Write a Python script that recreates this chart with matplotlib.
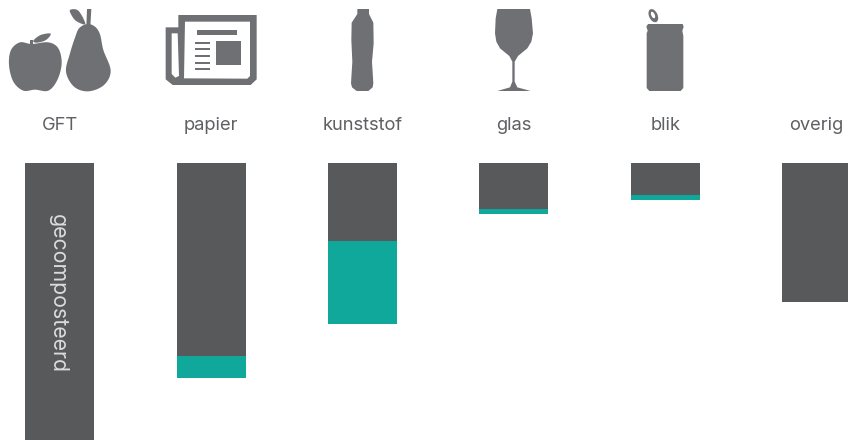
import numpy as np
import matplotlib
matplotlib.use("Agg")
import matplotlib.pyplot as plt
from matplotlib.patches import Polygon, Rectangle, Ellipse

categories = ["GFT", "papier", "kunststof", "glas", "blik", "overig"]
composted_or_burned = [300, 193, 78, 46, 32, 139]
recycled = [0, 22, 83, 5, 5, 0]
bar_note = "gecomposteerd"

DARK = "#58595b"
TEAL = "#10a89b"
ICON = "#6f7074"
TEXT = "#5f6063"

W, H = 848, 440
fig = plt.figure(figsize=(W / 100, H / 100), dpi=100, facecolor="white")

# Bars hang down from a shared top line
ax = fig.add_axes([0, 0, 1, (H - 163) / H])
positions = np.arange(len(categories))
ax.bar(positions, composted_or_burned, width=69 / 151.4, color=DARK, linewidth=0)
ax.bar(positions, recycled, width=69 / 151.4, bottom=composted_or_burned,
       color=TEAL, linewidth=0)
ax.set_xlim((0 - 59.7) / 151.4, (W - 59.7) / 151.4)
ax.set_ylim(H - 163, 0)
ax.axis("off")

ax.text(positions[0] - 1.5 / 151.4, 130.5, bar_note, rotation=270, ha="center", va="center",
        color="#dcdcdc", fontsize=15.3, family="Inter")

# Overlay in pixel units for the icons and the category names
ov = fig.add_axes([0, 0, 1, 1], facecolor="none")
ov.set_xlim(0, W)
ov.set_ylim(H, 0)
ov.axis("off")


def smooth(points, n=10):
    """Closed Catmull-Rom curve through the given outline points."""
    p = np.asarray(points, dtype=float)
    out = []
    for i in range(len(p)):
        p0, p1, p2, p3 = p[i - 1], p[i], p[(i + 1) % len(p)], p[(i + 2) % len(p)]
        for t in np.linspace(0, 1, n, endpoint=False):
            out.append(0.5 * (2 * p1 + (p2 - p0) * t
                              + (2 * p0 - 5 * p1 + 4 * p2 - p3) * t ** 2
                              + (3 * p1 - p0 - 3 * p2 + p3) * t ** 3))
    return np.array(out)


def shape(points, x0=0.0, color=ICON, curved=True):
    """Draw an outline given in 3x-scaled coordinates offset by x0."""
    p = smooth(points) if curved else np.asarray(points, dtype=float)
    p = p / 3 + [x0, 0]
    ov.add_patch(Polygon(p, closed=True, fc=color, ec="none"))


def box(x1, y1, x2, y2, color=ICON):
    ov.add_patch(Rectangle((x1 / 3, y1 / 3), (x2 - x1) / 3, (y2 - y1) / 3, fc=color, ec="none"))


# Apple
shape([(95, 132), (60, 127), (33, 150), (27, 195), (40, 245), (70, 272), (105, 269),
       (145, 272), (172, 240), (185, 190), (175, 145), (145, 127)])
shape([(100, 122), (122, 105), (152, 101), (138, 120), (110, 128)])
box(91, 120, 100, 132)
# Pear
shape([(262, 72), (285, 80), (300, 103), (310, 150), (332, 212), (312, 255), (265, 274),
       (222, 260), (198, 215), (210, 160), (226, 110), (238, 84)])
shape([(210, 30), (235, 32), (256, 72), (230, 64), (216, 48)])
shape([(261, 27), (274, 27), (271, 80), (259, 80)], curved=False)

# Newspaper
shape([(535, 45), (770, 45), (770, 238), (752, 255), (518, 255), (497, 238), (497, 82), (535, 82)],
      curved=False)
shape([(555, 65), (750, 65), (750, 228), (742, 236), (552, 235)], color="white", curved=False)
shape([(515, 100), (533, 100), (537, 228), (526, 233), (515, 222)], color="white", curved=False)
box(590, 91, 710, 104)
box(647, 124, 722, 195)
for line_y in (125, 145, 165, 185, 205):
    box(585, line_y, 630, line_y + 6)

# Bottle
shape([(1072, 27), (1107, 27), (1107, 42), (1120, 68), (1121, 130), (1116, 185),
       (1120, 250), (1118, 262), (1105, 273), (1070, 273), (1056, 262), (1053, 250), (1057, 185),
       (1054, 120), (1055, 68), (1072, 42)], curved=False)

# Wine glass
shape([(220, 27), (318, 27), (323, 55), (327, 100), (322, 125), (310, 145), (282, 168), (272, 185),
       (272, 245), (280, 262), (320, 273), (220, 273), (258, 262), (265, 245), (265, 185), (256, 168),
       (228, 145), (217, 125), (213, 100), (215, 55)], x0=424, curved=False)

# Can with pull tab
shape([(672, 72), (776, 72), (779, 80), (775, 92), (778, 108), (778, 264), (770, 273), (676, 273),
       (668, 264), (668, 100), (671, 92), (667, 80)], x0=424, curved=False)
ov.add_patch(Ellipse((424 + 688 / 3, 47 / 3), 8.5, 14, angle=-25, fc=ICON, ec="none"))
ov.add_patch(Ellipse((424 + 687 / 3, 45 / 3), 3.5, 7, angle=-25, fc="white", ec="none"))

for i, name in enumerate(categories):
    ov.text(59.7 + i * 151.4, 130.5, name, ha="center", va="baseline", color=TEXT,
            fontsize=13.2, family="Inter")

fig.savefig("out.png", dpi=100, facecolor="white")
